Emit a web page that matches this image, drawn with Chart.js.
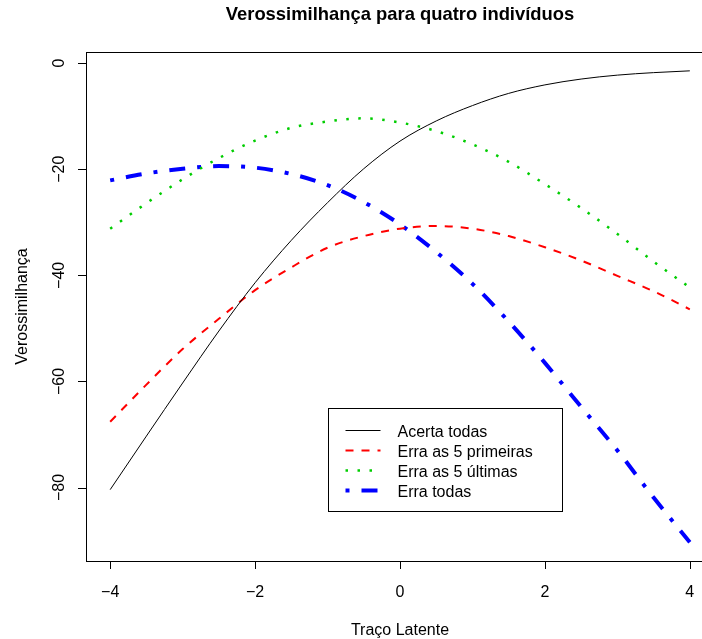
<!DOCTYPE html>
<html>
<head>
<meta charset="utf-8">
<title>Verossimilhança para quatro indivíduos</title>
<script src="https://cdn.jsdelivr.net/npm/chart.js@4"></script>
<style>
  html, body { margin: 0; padding: 0; background: #fff; }
  #wrap { width: 702px; height: 639px; overflow: hidden; }
  canvas { display: block; }
</style>
</head>
<body>
<div id="wrap"><canvas id="chart" width="725" height="639"></canvas></div>
<script>
// traço latente (theta) e log-verossimilhanças
const theta = [-4, -3.5, -3, -2.5, -2, -1.5, -1, -0.5, 0, 0.5, 1, 1.5, 2, 2.5, 3, 3.5, 4];
const acertaTodas = [-80.4, -70.3, -60.3, -50.5, -41.4, -33.4, -26.3, -19.9, -14.7, -10.9, -8.0, -5.7, -4.1, -3.0, -2.26, -1.79, -1.45];
const erraPrimeiras = [-67.6, -60.6, -53.9, -48.2, -42.8, -38.5, -34.8, -32.6, -31.2, -30.7, -31.2, -32.6, -34.7, -37.2, -40.1, -43.0, -46.4];
const erraUltimas = [-31.2, -26.4, -21.9, -17.9, -14.6, -12.2, -11.0, -10.4, -11.2, -12.8, -15.3, -18.6, -22.8, -27.3, -32.2, -37.4, -42.3];
const erraTodas = [-22.1, -20.8, -19.9, -19.4, -19.7, -20.9, -23.0, -26.2, -30.4, -35.6, -41.6, -48.7, -56.5, -64.8, -73.0, -81.9, -90.3];
const seriesNames = ['Acerta todas', 'Erra as 5 primeiras', 'Erra as 5 últimas', 'Erra todas'];
const xTicks = [-4, -2, 0, 2, 4];
const yTicks = [0, -20, -40, -60, -80];

const FONT = "'Liberation Sans', Arial, Helvetica, sans-serif";

function toPoints(ys) {
    return theta.map((t, i) => ({ x: t, y: ys[i] }));
}

function rLabel(v) {
    return String(v).replace('-', '\u2212');
}

// eixos, caixa, títulos e legenda no estilo do R base
const rBase = {
    id: 'rBase',
    afterDraw(chart) {
        const ctx = chart.ctx;
        const a = chart.chartArea;
        const xs = chart.scales.x;
        const ys = chart.scales.y;
        ctx.save();
        ctx.strokeStyle = '#000';
        ctx.fillStyle = '#000';
        ctx.lineWidth = 1;
        ctx.setLineDash([]);

        // box
        ctx.strokeRect(Math.round(a.left) - 0.5, Math.round(a.top) + 0.5,
            Math.round(a.right - a.left), Math.round(a.bottom - a.top));

        // x axis
        ctx.font = '16px ' + FONT;
        ctx.textAlign = 'center';
        ctx.textBaseline = 'alphabetic';
        ctx.beginPath();
        xTicks.forEach(v => {
            const px = Math.round(xs.getPixelForValue(v)) + 0.5;
            ctx.moveTo(px, a.bottom);
            ctx.lineTo(px, a.bottom + 8);
        });
        ctx.stroke();
        xTicks.forEach(v => ctx.fillText(rLabel(v), xs.getPixelForValue(v), a.bottom + 36));

        // y axis
        ctx.beginPath();
        yTicks.forEach(v => {
            const py = Math.round(ys.getPixelForValue(v)) + 0.5;
            ctx.moveTo(a.left, py);
            ctx.lineTo(a.left - 9, py);
        });
        ctx.stroke();
        yTicks.forEach(v => {
            ctx.save();
            ctx.translate(a.left - 23, ys.getPixelForValue(v));
            ctx.rotate(-Math.PI / 2);
            ctx.fillText(rLabel(v), 0, 0);
            ctx.restore();
        });

        // axis titles
        ctx.fillText('Traço Latente', (a.left + a.right) / 2, a.bottom + 74);
        ctx.save();
        ctx.translate(27, (a.top + a.bottom) / 2);
        ctx.rotate(-Math.PI / 2);
        ctx.fillText('Verossimilhança', 0, 0);
        ctx.restore();

        // main title
        ctx.font = 'bold 18.4px ' + FONT;
        ctx.fillText('Verossimilhança para quatro indivíduos', (a.left + a.right) / 2, 20);

        // legend, anchored in data units (x = -1, y = -65)
        const lx = Math.round(xs.getPixelForValue(-1)) + 0.5;
        const ly = Math.round(ys.getPixelForValue(-65)) + 0.5;
        ctx.strokeRect(lx, ly, 234, 103);
        ctx.font = '16px ' + FONT;
        ctx.textAlign = 'left';
        chart.data.datasets.forEach((ds, i) => {
            const y = ly + 22 + i * 20;
            ctx.save();
            ctx.strokeStyle = ds.borderColor;
            ctx.lineWidth = ds.borderWidth;
            ctx.setLineDash(ds.borderDash || []);
            ctx.beginPath();
            ctx.moveTo(lx + 17, y);
            ctx.lineTo(lx + 52, y);
            ctx.stroke();
            ctx.restore();
            ctx.fillText(ds.label, lx + 69, ly + 28 + i * 20);
        });
        ctx.restore();
    }
};

new Chart(document.getElementById('chart'), {
    type: 'line',
    data: {
        datasets: [{
            label: seriesNames[0],
            data: toPoints(acertaTodas),
            borderColor: '#000000',
            borderWidth: 1,
            borderDash: []
        }, {
            label: seriesNames[1],
            data: toPoints(erraPrimeiras),
            borderColor: '#FF0000',
            borderWidth: 2,
            borderDash: [8, 8]
        }, {
            label: seriesNames[2],
            data: toPoints(erraUltimas),
            borderColor: '#00CD00',
            borderWidth: 2.5,
            borderDash: [2.5, 9.5]
        }, {
            label: seriesNames[3],
            data: toPoints(erraTodas),
            borderColor: '#0000FF',
            borderWidth: 4,
            borderDash: [4, 12, 16, 12]
        }]
    },
    options: {
        responsive: false,
        animation: false,
        devicePixelRatio: 1,
        layout: { padding: { left: 87, right: 12, top: 52, bottom: 78 } },
        elements: {
            point: { radius: 0, hoverRadius: 0 },
            line: { cubicInterpolationMode: 'monotone', fill: false }
        },
        scales: {
            x: { type: 'linear', min: -4.32, max: 4.32, display: false },
            y: { type: 'linear', min: -93.85, max: 2.1, display: false }
        },
        plugins: {
            legend: { display: false },
            title: { display: false },
            tooltip: { enabled: false }
        }
    },
    plugins: [rBase]
});
</script>
</body>
</html>
